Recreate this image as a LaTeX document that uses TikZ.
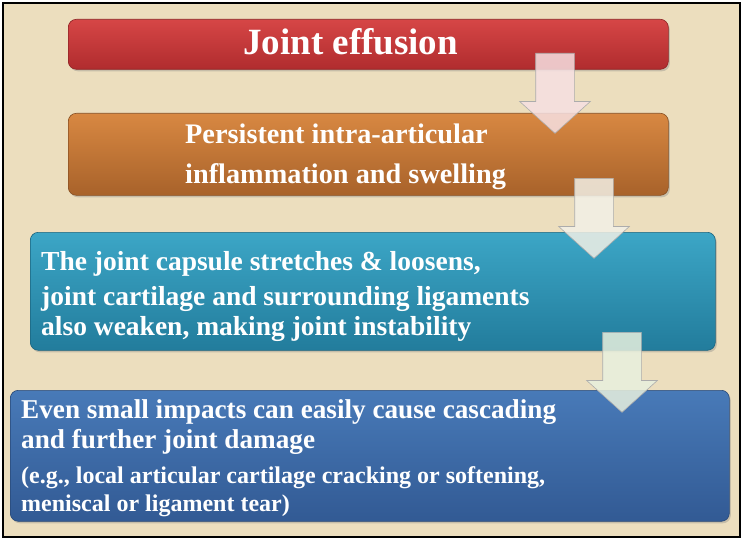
\documentclass[tikz,border=0pt]{standalone}
\usepackage{fontspec}
\setmainfont{Liberation Serif}
\usetikzlibrary{shapes.arrows, shadows}

\definecolor{paper}{RGB}{236,222,190}
\definecolor{redTop}{RGB}{214,70,70}
\definecolor{redBot}{RGB}{176,44,46}
\definecolor{orgTop}{RGB}{216,136,66}
\definecolor{orgBot}{RGB}{168,98,42}
\definecolor{tealTop}{RGB}{60,166,198}
\definecolor{tealBot}{RGB}{34,124,156}
\definecolor{blueTop}{RGB}{72,122,184}
\definecolor{blueBot}{RGB}{50,90,148}
\definecolor{arrPink}{RGB}{246,224,226}
\definecolor{arrCream}{RGB}{242,240,230}
\definecolor{arrMint}{RGB}{232,240,222}

\newcommand{\smalltxt}{\fontsize{24}{28}\selectfont}

\begin{document}
\begin{tikzpicture}[x=1pt, y=-1pt,
    stage/.style={rounded corners=8pt, draw=#1, line width=0.6pt, anchor=north west,
      inner sep=0pt, drop shadow={opacity=0.35, shadow xshift=1.5pt, shadow yshift=-2pt}},
    txt/.style={font=\bfseries\fontsize{27.5}{30}\selectfont, text=white, align=left,
      anchor=base west, inner sep=0pt},
    flow/.style={single arrow, rotate=-90, anchor=tail, draw=gray!65, line width=0.6pt,
      fill=#1, fill opacity=0.85, minimum height=80pt, single arrow head extend=16pt,
      single arrow tip angle=96, inner xsep=0pt, inner ysep=19pt},
  ]
    \useasboundingbox (0,0) rectangle (743,540);
    \draw[fill=paper, line width=1.2pt] (3,3) rectangle (740,537);

    % the four stages
    \node[stage=redBot!80!black, top color=redTop, bottom color=redBot,
      minimum width=600pt, minimum height=50pt] (boxA) at (68,19) {};
    \node[stage=orgBot!80!black, top color=orgTop, bottom color=orgBot,
      minimum width=600pt, minimum height=82pt] (boxB) at (68,113) {};
    \node[stage=tealBot!80!black, top color=tealTop, bottom color=tealBot,
      minimum width=685pt, minimum height=118pt] (boxC) at (30,232) {};
    \node[stage=blueBot!80!black, top color=blueTop, bottom color=blueBot,
      minimum width=719pt, minimum height=131pt] (boxD) at (10,390) {};

    % texts, placed at the baseline of their last line
    \node[txt, font=\bfseries\fontsize{37}{40}\selectfont] (txtA) at (243,55) {Joint effusion};
    \node[txt, font=\bfseries\fontsize{28.3}{30}\selectfont] (txtB) at (185,183)
      {Persistent intra-articular\\[10pt]inflammation and swelling};
    \node[txt] (txtC) at (41,335)
      {The joint capsule stretches \& loosens,\\[5pt]joint cartilage and surrounding ligaments\\also weaken, making joint instability};
    \node[txt, font=\bfseries\fontsize{27.2}{30}\selectfont] (txtD) at (21,511)
      {Even small impacts can easily cause cascading\\and further joint damage\\[5pt]\smalltxt(e.g., local articular cartilage cracking or softening,\\[-2pt]\smalltxt meniscal or ligament tear)};

    % arrows between stages
    \node[flow=arrPink] (arrA) at (555,53) {};
    \node[flow=arrCream] (arrB) at (594,178) {};
    \node[flow=arrMint] (arrC) at (622,332) {};
  \end{tikzpicture}
\end{document}
